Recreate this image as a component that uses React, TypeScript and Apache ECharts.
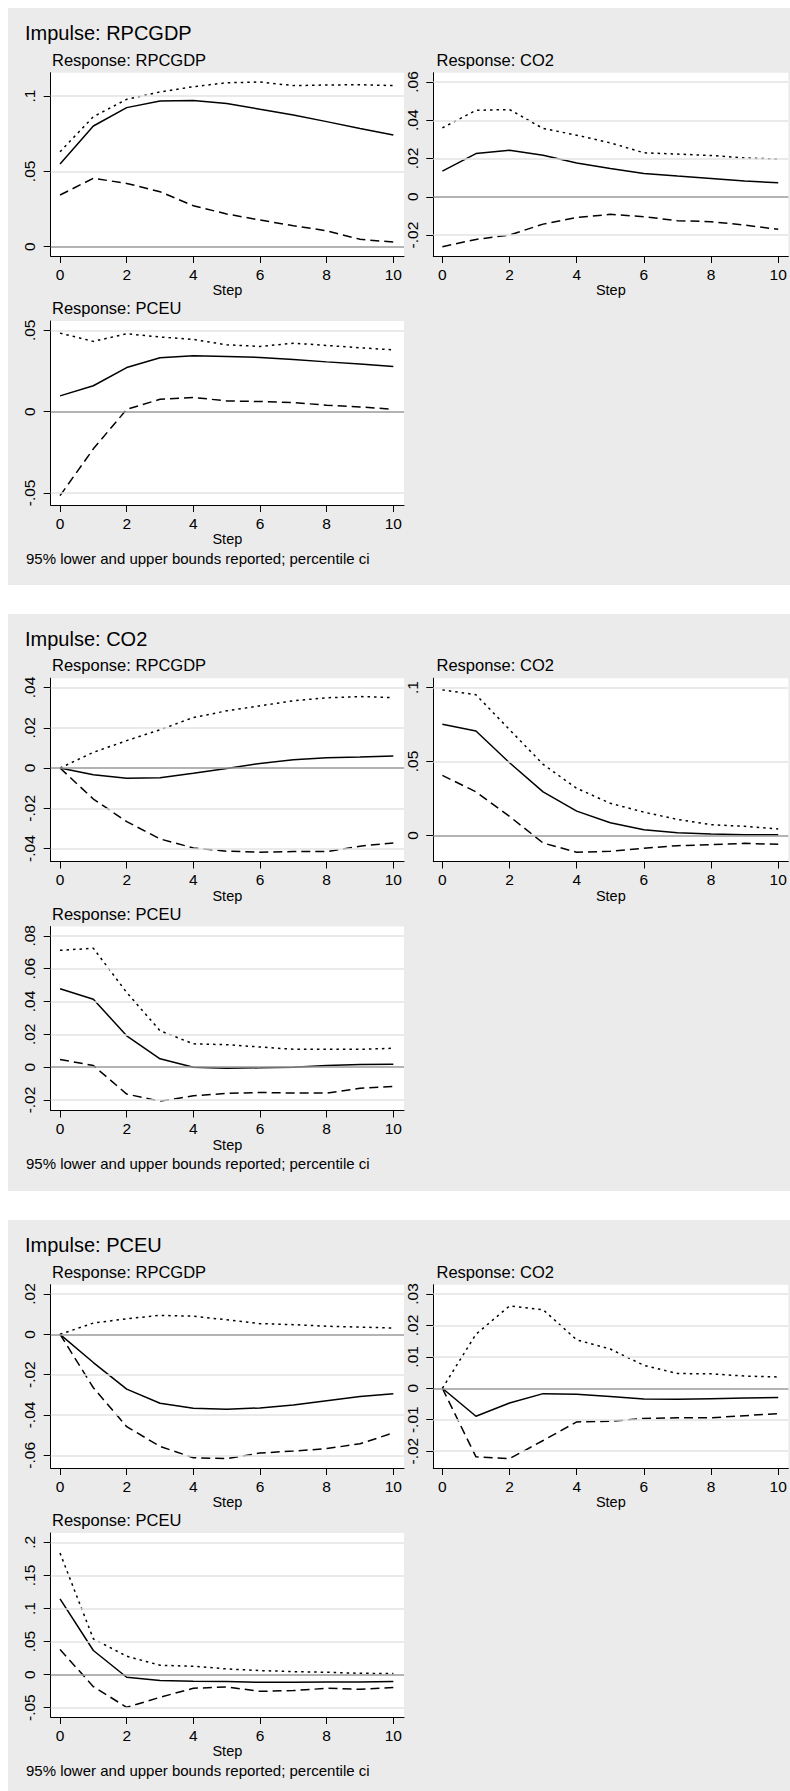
import React, { useEffect, useRef } from "react";
import * as echarts from "echarts";

const steps = [0, 1, 2, 3, 4, 5, 6, 7, 8, 9, 10];
const xTicks = [0, 2, 4, 6, 8, 10];

const impulses = ["RPCGDP", "CO2", "PCEU"];
const responses = ["RPCGDP", "CO2", "PCEU"];

// Impulse: RPCGDP
const irfA = [0.0549, 0.0801, 0.0923, 0.0967, 0.0971, 0.0951, 0.0912, 0.0874, 0.083, 0.0785, 0.0741];
const loA = [0.0343, 0.0454, 0.042, 0.0365, 0.0272, 0.0217, 0.0177, 0.0139, 0.0106, 0.0049, 0.0031];
const hiA = [0.063, 0.0863, 0.0978, 0.1027, 0.1062, 0.1088, 0.1093, 0.1069, 0.1073, 0.1075, 0.1069];
const ticksA = [0, 0.05, 0.1];
const labelsA = ["0", ".05", ".1"];

const irfB = [0.0134, 0.0226, 0.0243, 0.0217, 0.0177, 0.0148, 0.0122, 0.0108, 0.0096, 0.0083, 0.0073];
const loB = [-0.0261, -0.0223, -0.02, -0.0143, -0.0108, -0.0092, -0.0104, -0.0125, -0.013, -0.0148, -0.017];
const hiB = [0.036, 0.0452, 0.0456, 0.0357, 0.0322, 0.0282, 0.023, 0.0223, 0.0216, 0.0203, 0.0197];
const ticksB = [-0.02, 0, 0.02, 0.04, 0.06];
const labelsB = ["-.02", "0", ".02", ".04", ".06"];

const irfC = [0.0097, 0.0159, 0.0271, 0.0331, 0.0343, 0.0339, 0.0333, 0.032, 0.0306, 0.0293, 0.0277];
const loC = [-0.0517, -0.0229, 0.0014, 0.0076, 0.0087, 0.0066, 0.0062, 0.0056, 0.0039, 0.0029, 0.0014];
const hiC = [0.0483, 0.0432, 0.0479, 0.0459, 0.0444, 0.0411, 0.0401, 0.0421, 0.0407, 0.0393, 0.038];
const ticksC = [-0.05, 0, 0.05];
const labelsC = ["-.05", "0", ".05"];

// Impulse: CO2
const irfD = [0, -0.0033, -0.0051, -0.0048, -0.0026, -0.0002, 0.0023, 0.0041, 0.0051, 0.0055, 0.006];
const loD = [0, -0.0154, -0.0266, -0.0352, -0.0397, -0.0413, -0.0418, -0.0415, -0.0415, -0.0388, -0.0372];
const hiD = [0, 0.0078, 0.0136, 0.019, 0.0251, 0.0284, 0.0309, 0.0334, 0.0349, 0.0355, 0.035];
const ticksD = [-0.04, -0.02, 0, 0.02, 0.04];
const labelsD = ["-.04", "-.02", "0", ".02", ".04"];

const irfE = [0.0751, 0.0706, 0.0491, 0.0294, 0.0164, 0.0085, 0.0038, 0.0018, 0.0009, 0.0004, 0.0004];
const loE = [0.0406, 0.0294, 0.0128, -0.0052, -0.0114, -0.0108, -0.0087, -0.007, -0.0063, -0.0054, -0.0061];
const hiE = [0.0984, 0.0951, 0.0715, 0.048, 0.0318, 0.0217, 0.0157, 0.0108, 0.0072, 0.0061, 0.0043];
const ticksE = [0, 0.05, 0.1];
const labelsE = ["0", ".05", ".1"];

const irfF = [0.0478, 0.0414, 0.0191, 0.0051, 0, -0.0006, -0.0004, 0, 0.001, 0.0016, 0.0018];
const loF = [0.0047, 0.001, -0.0164, -0.0207, -0.0174, -0.016, -0.0154, -0.0158, -0.0158, -0.0129, -0.0117];
const hiF = [0.0712, 0.0724, 0.0455, 0.0222, 0.0142, 0.0137, 0.0123, 0.0109, 0.0109, 0.0109, 0.0115];
const ticksF = [-0.02, 0, 0.02, 0.04, 0.06, 0.08];
const labelsF = ["-.02", "0", ".02", ".04", ".06", ".08"];

// Impulse: PCEU
const irfG = [0, -0.014, -0.0272, -0.0342, -0.0367, -0.0372, -0.0365, -0.0351, -0.0329, -0.0309, -0.0295];
const loG = [0, -0.0265, -0.0458, -0.0556, -0.0612, -0.0617, -0.0589, -0.0579, -0.0567, -0.0543, -0.0489];
const hiG = [0, 0.0056, 0.0077, 0.0094, 0.009, 0.0072, 0.0053, 0.0048, 0.004, 0.0036, 0.0031];
const ticksG = [-0.06, -0.04, -0.02, 0, 0.02];
const labelsG = ["-.06", "-.04", "-.02", "0", ".02"];

const irfH = [0, -0.0089, -0.0047, -0.0017, -0.0019, -0.0026, -0.0034, -0.0035, -0.0033, -0.0031, -0.0029];
const loH = [0, -0.0218, -0.0224, -0.0166, -0.0107, -0.0105, -0.0096, -0.0094, -0.0094, -0.0087, -0.0081];
const hiH = [0, 0.0172, 0.0262, 0.025, 0.0154, 0.0125, 0.0073, 0.0047, 0.0046, 0.0039, 0.0036];
const ticksH = [-0.02, -0.01, 0, 0.01, 0.02, 0.03];
const labelsH = ["-.02", "-.01", "0", ".01", ".02", ".03"];

const irfI = [0.1146, 0.0364, -0.004, -0.0091, -0.0101, -0.0106, -0.0116, -0.0116, -0.0111, -0.0111, -0.0106];
const loI = [0.0379, -0.0182, -0.0495, -0.0343, -0.0207, -0.0187, -0.0253, -0.0242, -0.0207, -0.0222, -0.0197];
const hiI = [0.1838, 0.054, 0.0278, 0.0141, 0.0126, 0.0086, 0.0061, 0.0045, 0.0035, 0.002, 0.0015];
const ticksI = [-0.05, 0, 0.05, 0.1, 0.15, 0.2];
const labelsI = ["-.05", "0", ".05", ".1", ".15", ".2"];

const footnote = "95% lower and upper bounds reported; percentile ci";

const panels = [
  { block: 0, resp: 0, irf: irfA, lo: loA, hi: hiA, ticks: ticksA, labels: labelsA },
  { block: 0, resp: 1, irf: irfB, lo: loB, hi: hiB, ticks: ticksB, labels: labelsB },
  { block: 0, resp: 2, irf: irfC, lo: loC, hi: hiC, ticks: ticksC, labels: labelsC },
  { block: 1, resp: 0, irf: irfD, lo: loD, hi: hiD, ticks: ticksD, labels: labelsD },
  { block: 1, resp: 1, irf: irfE, lo: loE, hi: hiE, ticks: ticksE, labels: labelsE },
  { block: 1, resp: 2, irf: irfF, lo: loF, hi: hiF, ticks: ticksF, labels: labelsF },
  { block: 2, resp: 0, irf: irfG, lo: loG, hi: hiG, ticks: ticksG, labels: labelsG },
  { block: 2, resp: 1, irf: irfH, lo: loH, hi: hiH, ticks: ticksH, labels: labelsH },
  { block: 2, resp: 2, irf: irfI, lo: loI, hi: hiI, ticks: ticksI, labels: labelsI },
];

// layout
const W = 790;
const H = 1791;
const FONT = '"Liberation Sans", Arial, Helvetica, sans-serif';
const BG = "#EBEBEB";
const blockTop = [8, 613.5, 1220];
const blockH = 577;
const cellPos = [
  { col: 0, row: 0 },
  { col: 1, row: 0 },
  { col: 0, row: 1 },
];
const colLeft = [50.7, 433.3];
const colWidth = [353.3, 355];
const colXMin = [-0.28, -0.27];
const colXMax = [10.32, 10.3];
const rowTop = [64.7, 313];
const rowH = [183.3, 184];
const subX = [52, 436.5];
const subY = [51.5, 300];

function buildOption() {
  const grid: any[] = [];
  const xAxis: any[] = [];
  const yAxis: any[] = [];
  const series: any[] = [];
  const graphic: any[] = [];

  blockTop.forEach((bt, b) => {
    graphic.push({
      type: "text",
      x: 25,
      y: bt + 25,
      style: { text: "Impulse: " + impulses[b], fontSize: 20, fontFamily: FONT, fill: "#000", verticalAlign: "middle" },
    });
    graphic.push({
      type: "text",
      x: 26,
      y: bt + 550,
      style: { text: footnote, fontSize: 15, fontFamily: FONT, fill: "#000", verticalAlign: "middle" },
    });
  });

  panels.forEach((p, i) => {
    const { col, row } = cellPos[p.resp];
    const bt = blockTop[p.block];
    const all = [...p.irf, ...p.lo, ...p.hi, ...p.ticks];
    const lo = Math.min(...all);
    const hi = Math.max(...all);
    const pad = (hi - lo) * 0.0565;

    graphic.push({
      type: "text",
      x: subX[col],
      y: bt + subY[row],
      style: { text: "Response: " + responses[p.resp], fontSize: 16.5, fontFamily: FONT, fill: "#000", verticalAlign: "middle" },
    });

    grid.push({
      left: colLeft[col],
      top: bt + rowTop[row],
      width: colWidth[col],
      height: rowH[row],
      show: true,
      backgroundColor: "#ffffff",
      borderWidth: 0,
    });
    xAxis.push({
      type: "value",
      gridIndex: i,
      min: colXMin[col],
      max: colXMax[col],
      axisLine: { show: true, onZero: false, lineStyle: { color: "#000", width: 1 } },
      axisTick: { show: true, length: 7, customValues: xTicks, lineStyle: { color: "#000", width: 1 } },
      axisLabel: { customValues: xTicks, color: "#000", fontSize: 15.5, fontFamily: FONT, margin: 10 },
      splitLine: { show: false },
      name: "Step",
      nameLocation: "middle",
      nameGap: 26,
      nameTextStyle: { color: "#000", fontSize: 14.5, fontFamily: FONT },
    });
    const labs = p.labels;
    const tks = p.ticks;
    yAxis.push({
      type: "value",
      gridIndex: i,
      min: lo - pad,
      max: hi + pad,
      axisLine: { show: true, onZero: false, lineStyle: { color: "#000", width: 1 } },
      axisTick: { show: true, length: 7, customValues: tks, lineStyle: { color: "#000", width: 1 } },
      axisLabel: {
        customValues: tks,
        rotate: 90,
        color: "#000",
        fontSize: 15.5,
        fontFamily: FONT,
        margin: 13,
        formatter: (v: number) => {
          const k = tks.findIndex((t) => Math.abs(t - v) < 1e-9);
          return k >= 0 ? labs[k] : "";
        },
      },
      splitLine: { show: false },
    });

    const gridLines = tks
      .filter((t) => Math.abs(t) > 1e-12)
      .map((t) => ({ yAxis: t, lineStyle: { color: "#E3E3E3", width: 1.5, type: "solid" } }));
    series.push({
      type: "line",
      xAxisIndex: i,
      yAxisIndex: i,
      data: [],
      silent: true,
      z: 1,
      markLine: {
        silent: true,
        symbol: ["none", "none"],
        label: { show: false },
        animation: false,
        data: [...gridLines, { yAxis: 0, lineStyle: { color: "#9A9A9A", width: 1.6, type: "solid" } }],
      },
    });

    const mk = (vals: number[], type: any, name: string) => ({
      type: "line",
      name,
      xAxisIndex: i,
      yAxisIndex: i,
      data: steps.map((s, k) => [s, vals[k]]),
      showSymbol: false,
      symbol: "none",
      z: 3,
      lineStyle: { color: "#000", width: 1.5, type },
    });
    series.push(mk(p.irf, "solid", "oirf"));
    series.push(mk(p.lo, [9, 5], "lower"));
    series.push(mk(p.hi, [2.5, 4], "upper"));
  });

  return {
    animation: false,
    backgroundColor: "transparent",
    textStyle: { fontFamily: FONT },
    grid,
    xAxis,
    yAxis,
    series,
    graphic: { elements: graphic },
  };
}

export default function App() {
  const ref = useRef<HTMLDivElement>(null);
  useEffect(() => {
    if (!ref.current) return;
    const chart = echarts.init(ref.current, undefined, { renderer: "svg" });
    chart.setOption(buildOption() as any);
    return () => chart.dispose();
  }, []);
  return (
    <div style={{ position: "absolute", left: 0, top: 0, width: W, height: H, overflow: "hidden", background: "#fff" }}>
      {blockTop.map((bt, b) => (
        <div
          key={b}
          style={{ position: "absolute", left: 8, top: bt, width: W - 8, height: blockH, background: BG }}
        />
      ))}
      <div ref={ref} style={{ position: "absolute", left: 0, top: 0, width: W, height: H }} />
    </div>
  );
}
